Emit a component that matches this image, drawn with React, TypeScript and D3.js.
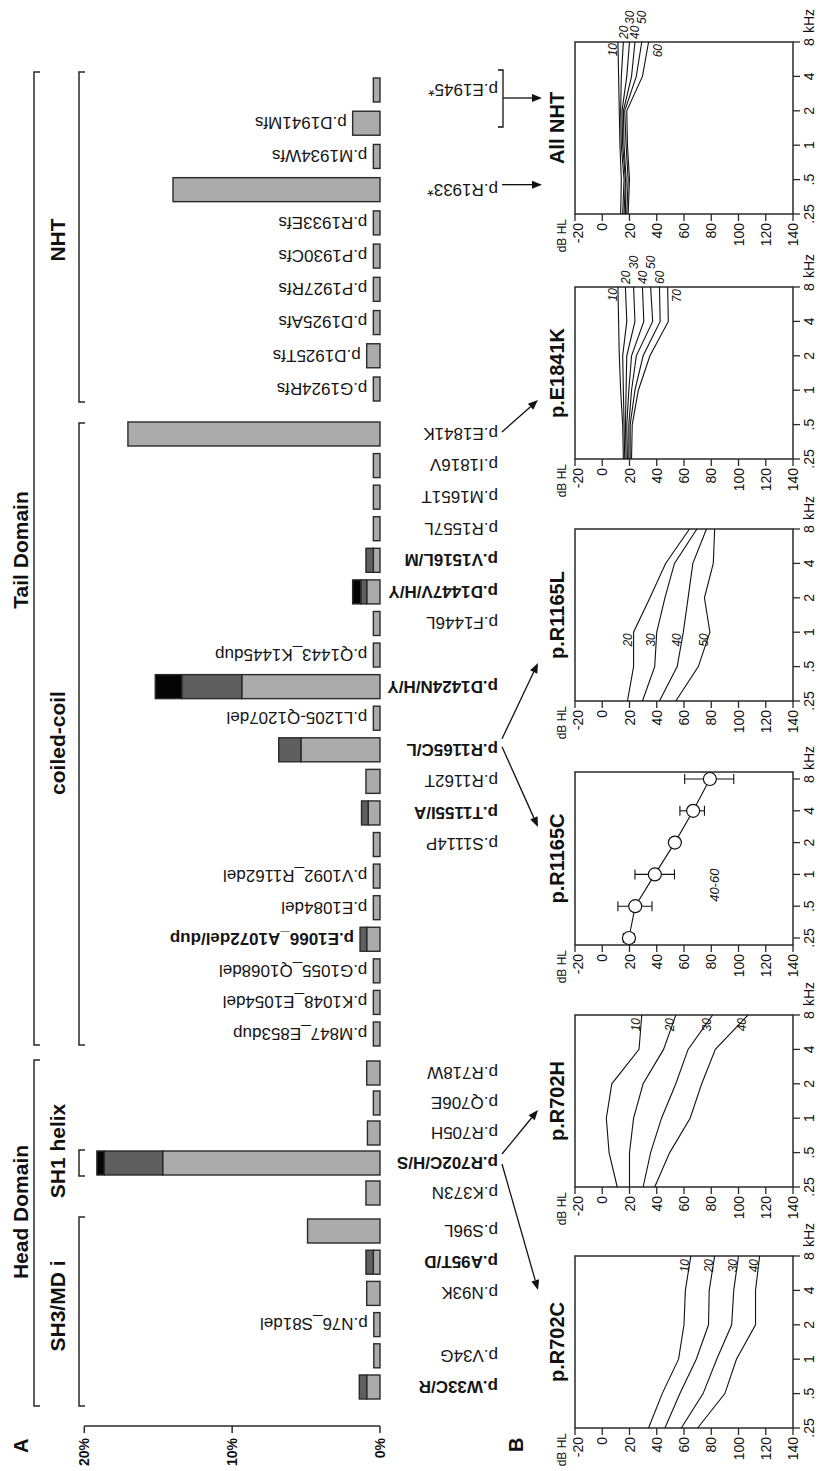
import React from "react";
import * as d3 from "d3";

// ---------- Panel A data (landscape order: left -> right) ----------
const sh3Variants = ["p.W33C/R", "p.V34G", "p.N76_S81del", "p.N93K", "p.A95T/D", "p.S96L"];
const sh1Variants = ["p.K373N", "p.R702C/H/S", "p.R705H", "p.Q706E", "p.R718W"];
const coiledVariants = [
  "p.M847_E853dup", "p.K1048_E1054del", "p.G1055_Q1068del", "p.E1066_A1072del/dup",
  "p.E1084del", "p.V1092_R1162del", "p.S1114P", "p.T1155I/A", "p.R1162T", "p.R1165C/L",
  "p.L1205-Q1207del", "p.D1424N/H/Y", "p.Q1443_K1445dup", "p.F1446L", "p.D1447V/H/Y",
  "p.V1516L/M", "p.R1557L", "p.M1651T", "p.I1816V", "p.E1841K",
];
const nhtVariants = [
  "p.G1924Rfs", "p.D1925Tfs", "p.D1925Afs", "p.P1927Rfs", "p.P1930Cfs",
  "p.R1933Efs", "p.R1933*", "p.M1934Wfs", "p.D1941Mfs", "p.E1945*",
];

// percentages: light grey / dark grey / black segments
const sh3Light = [0.9, 0.42, 0.42, 0.9, 0.45, 4.9];
const sh3Dark = [0.5, 0, 0, 0, 0.5, 0];
const sh3Black = [0, 0, 0, 0, 0, 0];
const sh1Light = [0.95, 14.7, 0.85, 0.45, 0.9];
const sh1Dark = [0, 3.95, 0, 0, 0];
const sh1Black = [0, 0.5, 0, 0, 0];
const coiledLight = [0.45, 0.45, 0.45, 0.9, 0.45, 0.45, 0.45, 0.8, 0.95, 5.35, 0.45, 9.35, 0.45, 0.45, 0.9, 0.45, 0.45, 0.45, 0.45, 17.05];
const coiledDark = [0, 0, 0, 0.45, 0, 0, 0, 0.45, 0, 1.5, 0, 4.05, 0, 0, 0.4, 0.5, 0, 0, 0, 0];
const coiledBlack = [0, 0, 0, 0, 0, 0, 0, 0, 0, 0, 0, 1.8, 0, 0, 0.55, 0, 0, 0, 0, 0];
const nhtLight = [0.45, 0.9, 0.45, 0.45, 0.45, 0.45, 14.0, 0.45, 1.85, 0.45];
const nhtDark = [0, 0, 0, 0, 0, 0, 0, 0, 0, 0];
const nhtBlack = [0, 0, 0, 0, 0, 0, 0, 0, 0, 0];

const pctTicks = [0, 10, 20];

// ---------- Panel B data ----------
const freqs = [0.25, 0.5, 1, 2, 4, 8];
const freqLabels = [".25", ".5", "1", "2", "4", "8"];
const dbTicks = [-20, 0, 20, 40, 60, 80, 100, 120, 140];

const r702cLevels = ["10", "20", "30", "40"];
const r702cDb = [
  [34, 44, 56, 60, 61, 65],
  [46, 57, 69, 78, 78.5, 82.5],
  [58, 74, 84, 95, 96.5, 100],
  [70, 90, 98.5, 112.5, 112.5, 115.5],
];
const r702hLevels = ["10", "20", "30", "40"];
const r702hDb = [
  [11, 5, 3, 7, 27, 29],
  [20, 20, 23, 30, 45, 54],
  [30, 35.5, 43.5, 54, 63, 81],
  [38.5, 49.5, 64.5, 73, 83, 107],
];
const r1165cMean = [19.6, 24.2, 38.6, 53.3, 66.7, 79];
const r1165cLow = [15.5, 11.5, 24, 50.5, 57, 60.5];
const r1165cHigh = [23.5, 36.5, 53, 56, 75, 96.5];
const r1165cAge = "40-60";
const r1165lLevels = ["20", "30", "40", "50"];
const r1165lDb = [
  [18.5, 23, 23, 35, 46.5, 64],
  [29.5, 38.5, 40, 46, 53, 69.5],
  [42, 55, 59.5, 63, 66.5, 76.5],
  [54, 70.5, 79, 75, 81.5, 82.5],
];
const e1841kLevels = ["10", "20", "30", "40", "50", "60", "70"];
const e1841kDb = [
  [15.5, 15, 13.5, 12.5, 12, 11.5],
  [16.5, 16, 15.5, 15, 18, 17],
  [17.5, 17, 17.5, 18, 24, 23],
  [18.5, 18, 19.5, 21.5, 30.5, 29.5],
  [19.5, 19.5, 21.5, 25, 37, 35.5],
  [20.5, 20.5, 24, 30, 42.5, 42],
  [21.5, 22, 26.5, 35, 48.5, 48],
];
const nhtLevels = ["10", "20", "30", "40", "50", "60"];
const nhtDb = [
  [13.5, 14, 13, 12.5, 12, 11.5],
  [15, 16, 14, 13.5, 14, 15.5],
  [16, 17, 15, 14.5, 18, 20],
  [17, 17.5, 16, 15.5, 21.5, 24],
  [18, 19, 17.5, 16.5, 25, 29],
  [19, 20, 18.5, 18, 29.5, 34],
];

// ---------- layout ----------
const W = 1471;
const FONT = "'Liberation Sans', Arial, Helvetica, sans-serif";
const LIGHT = "#ababab";
const DARK = "#5f5f5f";
const BLACK = "#050505";
const STROKE = "#2a2a2a";
const BAR_W = 24;

const yPct = d3.scaleLinear().domain([0, 20]).range([380, 84.3]);

const groups = [
  { names: sh3Variants, light: sh3Light, dark: sh3Dark, black: sh3Black, range: [84, 240] },
  { names: sh1Variants, light: sh1Light, dark: sh1Dark, black: sh1Black, range: [278, 398] },
  { names: coiledVariants, light: coiledLight, dark: coiledDark, black: coiledBlack, range: [437, 1037] },
  { names: nhtVariants, light: nhtLight, dark: nhtDark, black: nhtBlack, range: [1082, 1381] },
];

const barX: Record<string, number> = {};
groups.forEach((g) => {
  const s = d3.scalePoint<string>().domain(g.names).range(g.range as [number, number]);
  g.names.forEach((n) => (barX[n] = s(n) as number));
});

function Arrow({ x1, y1, x2, y2 }: { x1: number; y1: number; x2: number; y2: number }) {
  const ang = Math.atan2(y2 - y1, x2 - x1);
  const L = 10, Wd = 4;
  const bx = x2 - L * Math.cos(ang), by = y2 - L * Math.sin(ang);
  const px = -Math.sin(ang) * Wd, py = Math.cos(ang) * Wd;
  return (
    <g>
      <line x1={x1} y1={y1} x2={bx} y2={by} stroke="#111" strokeWidth={1.3} />
      <polygon points={`${x2},${y2} ${bx + px},${by + py} ${bx - px},${by - py}`} fill="#111" />
    </g>
  );
}

type Panel = {
  title: string;
  left: number;
  width: number;
  pad: number;
  levels?: string[];
  series?: number[][];
  mode?: "end" | "mid" | "stagger";
  errors?: boolean;
};

const panels: Panel[] = [
  { title: "p.R702C", left: 43, width: 172, pad: 0, levels: r702cLevels, series: r702cDb, mode: "end" },
  { title: "p.R702H", left: 284, width: 172, pad: 0, levels: r702hLevels, series: r702hDb, mode: "end" },
  { title: "p.R1165C", left: 526, width: 173, pad: 7, errors: true },
  { title: "p.R1165L", left: 770, width: 172, pad: 0, levels: r1165lLevels, series: r1165lDb, mode: "mid" },
  { title: "p.E1841K", left: 1012, width: 172, pad: 0, levels: e1841kLevels, series: e1841kDb, mode: "stagger" },
  { title: "All NHT", left: 1257, width: 172, pad: 0, levels: nhtLevels, series: nhtDb, mode: "stagger" },
];

const Y0 = 575, Y1 = 793;
const yDb = d3.scaleLinear().domain([-20, 140]).range([Y0, Y1]);

function Audiogram({ p }: { p: Panel }) {
  const x0 = p.left, x1 = p.left + p.width;
  const xs = d3.scaleLog().domain([0.25, 8]).range([x0 + p.pad, x1 - p.pad]);
  const line = d3.line<number>().x((_, i) => xs(freqs[i])).y((d) => yDb(d));
  const cx = (x0 + x1) / 2;
  return (
    <g>
      <text x={cx} y={564} textAnchor="middle" fontWeight="bold" fontSize={20} fill="#111">{p.title}</text>
      <rect x={x0} y={Y0} width={p.width} height={Y1 - Y0} fill="none" stroke={STROKE} strokeWidth={1.5} />
      {/* dB axis */}
      <text x={x0 - 5} y={566} textAnchor="end" fontSize={12} fill="#111">dB HL</text>
      {dbTicks.map((t, i) => (
        <g key={t}>
          <line x1={x0 - 7} x2={x0} y1={yDb(t)} y2={yDb(t)} stroke={STROKE} strokeWidth={1.3} />
          <text x={x0 - 9} y={yDb(t) + (i === 0 ? 3 : 0)} dy="0.36em" textAnchor="end" fontSize={14} fill="#111">{t}</text>
        </g>
      ))}
      {/* frequency axis */}
      {freqs.map((f, i) => (
        <g key={f}>
          <line x1={xs(f)} x2={xs(f)} y1={Y1} y2={Y1 + 7} stroke={STROKE} strokeWidth={1.3} />
          <text x={xs(f)} y={814} textAnchor="middle" fontSize={14} fill="#111">{freqLabels[i]}</text>
        </g>
      ))}
      <text x={xs(8) + 9} y={814} textAnchor="start" fontSize={14} fill="#111">kHz</text>
      {/* series */}
      {p.series &&
        p.series.map((s, i) => <path key={i} d={line(s) as string} fill="none" stroke="#111" strokeWidth={1.1} />)}
      {p.series &&
        p.levels &&
        p.series.map((s, i) => {
          const lab = p.levels![i];
          const n = p.series!.length;
          if (p.mode === "end") {
            return (
              <text key={"l" + i} x={x1 - 3} y={yDb(s[5]) - 2} textAnchor="end" fontSize={12} fontStyle="italic" fill="#111">{lab}</text>
            );
          }
          if (p.mode === "mid") {
            return (
              <text key={"l" + i} x={xs(1) - 1} y={yDb(s[2]) - 2} textAnchor="end" fontSize={12} fontStyle="italic" fill="#111">{lab}</text>
            );
          }
          if (i === 0) {
            return (
              <text key={"l" + i} x={x1 - 1} y={yDb(s[5]) - 1} textAnchor="end" fontSize={12} fontStyle="italic" fill="#111">{lab}</text>
            );
          }
          if (i === n - 1) {
            return (
              <text key={"l" + i} x={x1 - 2} y={yDb(s[5]) + 13} textAnchor="end" fontSize={12} fontStyle="italic" fill="#111">{lab}</text>
            );
          }
          const far = i % 2 === 0;
          return (
            <text key={"l" + i} x={x1 + (far ? 18 : 3)} y={yDb(s[5])} dy="0.35em" textAnchor="start" fontSize={12} fontStyle="italic" fill="#111">{lab}</text>
          );
        })}
      {p.errors && (
        <g>
          <path d={line(r1165cMean) as string} fill="none" stroke="#111" strokeWidth={1.1} />
          {r1165cMean.map((m, i) => (
            <g key={i}>
              <line x1={xs(freqs[i])} x2={xs(freqs[i])} y1={yDb(r1165cLow[i])} y2={yDb(r1165cHigh[i])} stroke="#111" strokeWidth={1.1} />
              <line x1={xs(freqs[i]) - 5} x2={xs(freqs[i]) + 5} y1={yDb(r1165cLow[i])} y2={yDb(r1165cLow[i])} stroke="#111" strokeWidth={1.1} />
              <line x1={xs(freqs[i]) - 5} x2={xs(freqs[i]) + 5} y1={yDb(r1165cHigh[i])} y2={yDb(r1165cHigh[i])} stroke="#111" strokeWidth={1.1} />
              <circle cx={xs(freqs[i])} cy={yDb(m)} r={6.5} fill="#fff" stroke="#111" strokeWidth={1.2} />
            </g>
          ))}
          <text x={xs(0.79)} y={yDb(82)} dy="0.35em" textAnchor="middle" fontSize={13} fontStyle="italic" fill="#111">{r1165cAge}</text>
        </g>
      )}
    </g>
  );
}

function Bracket({ a, b, y }: { a: number; b: number; y: number }) {
  return (
    <path d={`M${a},${y + 6}V${y}H${b}V${y + 6}`} fill="none" stroke={STROKE} strokeWidth={1.5} />
  );
}

export default function App() {
  const bars: React.ReactNode[] = [];
  groups.forEach((g) => {
    g.names.forEach((name, i) => {
      const cx = barX[name];
      const segs = [
        { v0: 0, v1: g.light[i], c: LIGHT },
        { v0: g.light[i], v1: g.light[i] + g.dark[i], c: DARK },
        { v0: g.light[i] + g.dark[i], v1: g.light[i] + g.dark[i] + g.black[i], c: BLACK },
      ].filter((s) => s.v1 > s.v0);
      const total = g.light[i] + g.dark[i] + g.black[i];
      const bold = name.includes("/");
      const above = /del|dup|fs/.test(name);
      const ly = above ? yPct(total) - 6 : 498;
      bars.push(
        <g key={name}>
          {segs.map((s, k) => (
            <rect key={k} x={cx - BAR_W / 2} y={yPct(s.v1)} width={BAR_W} height={yPct(s.v0) - yPct(s.v1)} fill={s.c} stroke={STROKE} strokeWidth={1.4} />
          ))}
          <text transform={`translate(${cx},${ly}) rotate(-90)`} dy="0.36em" textAnchor="start" fontSize={17} fontWeight={bold ? "bold" : "normal"} fill="#151515">{name}</text>
        </g>
      );
    });
  });

  return (
    <svg width={820} height={1471} style={{ position: "absolute", left: 0, top: 0, background: "#fff" }} fontFamily={FONT}>
      <rect x={0} y={0} width={820} height={1471} fill="#fff" />
      <g transform={`translate(0,${W}) rotate(-90)`}>
        {/* Panel A */}
        <text x={18} y={28} fontSize={20} fontWeight="bold" fill="#111">A</text>
        <line x1={45} x2={45} y1={yPct(20)} y2={yPct(0)} stroke={STROKE} strokeWidth={1.5} />
        {pctTicks.map((t) => (
          <g key={t}>
            <line x1={38} x2={45} y1={yPct(t)} y2={yPct(t)} stroke={STROKE} strokeWidth={1.5} />
            <text x={33} y={yPct(t)} dy="0.36em" textAnchor="end" fontSize={14} fontWeight="bold" fill="#111">{t + "%"}</text>
          </g>
        ))}
        {/* domain labels */}
        <text x={259} y={28} textAnchor="middle" fontSize={21} fontWeight="bold" fill="#111">Head Domain</text>
        <text x={921} y={28} textAnchor="middle" fontSize={21} fontWeight="bold" fill="#111">Tail Domain</text>
        <Bracket a={65} b={411} y={34} />
        <Bracket a={426} b={1399} y={34} />
        <text x={165} y={65} textAnchor="middle" fontSize={21} fontWeight="bold" fill="#111">SH3/MD i</text>
        <text x={320} y={65} textAnchor="middle" fontSize={21} fontWeight="bold" fill="#111">SH1 helix</text>
        <text x={728} y={65} textAnchor="middle" fontSize={21} fontWeight="bold" fill="#111">coiled-coil</text>
        <text x={1231} y={65} textAnchor="middle" fontSize={21} fontWeight="bold" fill="#111">NHT</text>
        <Bracket a={65} b={254} y={79} />
        <Bracket a={barX["p.R702C/H/S"] - 13} b={barX["p.R702C/H/S"] + 13} y={79} />
        <Bracket a={426} b={1048} y={79} />
        <Bracket a={1069} b={1399} y={79} />
        {bars}

        {/* Panel B */}
        <text x={19} y={523} fontSize={20} fontWeight="bold" fill="#111">B</text>
        {panels.map((p) => (
          <Audiogram key={p.title} p={p} />
        ))}

        {/* arrows */}
        <Arrow x1={barX["p.R702C/H/S"] + 9} y1={502} x2={361} y2={538} />
        <Arrow x1={barX["p.R702C/H/S"] - 1} y1={502} x2={181} y2={538} />
        <Arrow x1={barX["p.R1165C/L"] + 3} y1={502} x2={644} y2={538} />
        <Arrow x1={barX["p.R1165C/L"] + 11} y1={502} x2={808} y2={538} />
        <Arrow x1={barX["p.E1841K"] + 2} y1={502} x2={1071} y2={538} />
        <Arrow x1={barX["p.R1933*"] + 5} y1={502} x2={barX["p.R1933*"] + 5} y2={542} />
        <path d={`M1344,498V503H1401V498`} fill="none" stroke="#111" strokeWidth={1.3} />
        <Arrow x1={1373} y1={503} x2={1373} y2={542} />
      </g>
    </svg>
  );
}
